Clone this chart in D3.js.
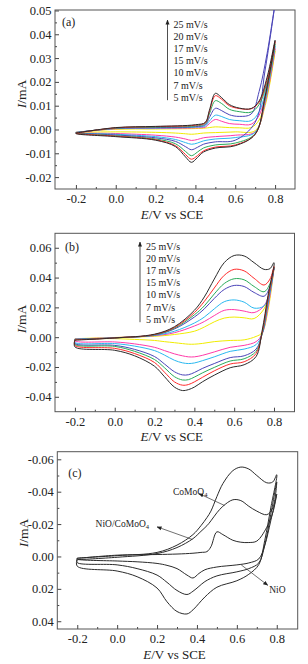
<!DOCTYPE html>
<html>
<head>
<meta charset="utf-8">
<script src="https://cdn.jsdelivr.net/npm/d3@7"></script>
<style>
  body { margin: 0; background: #fff; }
  text { font-family: "Liberation Serif", "Times New Roman", serif; fill: #222; }
</style>
</head>
<body>
<script>
// scan rates (legend top to bottom) and line colours
var rates = ["25 mV/s", "20 mV/s", "17 mV/s", "15 mV/s", "10 mV/s", "7 mV/s", "5 mV/s"];
var rateColors = ["#2b2b2b", "#ff2a2a", "#2aab5a", "#4a44b8", "#2ab8f0", "#ff3aa8", "#f0ec00"];

// tick values
var xTicks = [-0.2, 0.0, 0.2, 0.4, 0.6, 0.8];
var xMinor = [-0.1, 0.1, 0.3, 0.5, 0.7];
var yTicksA = [-0.02, -0.01, 0.00, 0.01, 0.02, 0.03, 0.04, 0.05];
var yMinorA = [-0.015, -0.005, 0.005, 0.015, 0.025, 0.035, 0.045];
var yTicksB = [-0.04, -0.02, 0.00, 0.02, 0.04, 0.06];
var yMinorB = [-0.03, -0.01, 0.01, 0.03, 0.05];
var yTicksC = [-0.06, -0.04, -0.02, 0.00, 0.02, 0.04];
var yMinorC = [-0.05, -0.03, -0.01, 0.01, 0.03];

// ---- panel (a): potentials (V) and currents (mA), one row per scan rate
var eFwdA = [-0.2, 0.0, 0.2, 0.4, 0.45, 0.47, 0.5, 0.53, 0.57, 0.62, 0.68, 0.72, 0.76, 0.8];
var iFwdA = [
  [-0.0015, 0.0008, 0.0013, 0.0020, 0.0030, 0.0080, 0.0152, 0.0135, 0.0105, 0.0090, 0.0088, 0.0120, 0.0220, 0.0375],
  [-0.0015, 0.0007, 0.0012, 0.0018, 0.0028, 0.0075, 0.0142, 0.0128, 0.0100, 0.0088, 0.0087, 0.0115, 0.0210, 0.0370],
  [-0.0014, 0.0006, 0.0010, 0.0015, 0.0025, 0.0065, 0.0121, 0.0110, 0.0085, 0.0075, 0.0073, 0.0105, 0.0200, 0.0360],
  [-0.0013, 0.0005, 0.0008, 0.0012, 0.0020, 0.0050, 0.0089, 0.0080, 0.0062, 0.0055, 0.0065, 0.0160, 0.0320, 0.0530],
  [-0.0012, 0.0004, 0.0006, 0.0010, 0.0015, 0.0035, 0.0060, 0.0055, 0.0042, 0.0037, 0.0037, 0.0075, 0.0190, 0.0350],
  [-0.0012, 0.0003, 0.0004, 0.0007, 0.0010, 0.0025, 0.0042, 0.0035, 0.0025, 0.0022, 0.0022, 0.0060, 0.0170, 0.0340],
  [-0.0012, 0.0001, 0.0002, 0.0004, 0.0006, 0.0008, 0.0011, 0.0010, 0.0008, 0.0007, 0.0008, 0.0040, 0.0150, 0.0330]
];
var eRevA = [0.75, 0.7, 0.6, 0.5, 0.44, 0.41, 0.38, 0.35, 0.3, 0.2, 0.0, -0.2];
var iRevA = [
  [0.0140, -0.0020, -0.0068, -0.0078, -0.0095, -0.0118, -0.0138, -0.0115, -0.0072, -0.0045, -0.0030, -0.0017],
  [0.0135, -0.0020, -0.0065, -0.0074, -0.0090, -0.0110, -0.0125, -0.0105, -0.0068, -0.0043, -0.0028, -0.0016],
  [0.0130, -0.0018, -0.0057, -0.0065, -0.0078, -0.0095, -0.0110, -0.0092, -0.0060, -0.0040, -0.0026, -0.0015],
  [0.0250, 0.0030, -0.0045, -0.0052, -0.0062, -0.0075, -0.0085, -0.0072, -0.0050, -0.0035, -0.0023, -0.0014],
  [0.0120, -0.0012, -0.0034, -0.0040, -0.0048, -0.0057, -0.0062, -0.0055, -0.0042, -0.0030, -0.0020, -0.0013],
  [0.0110, -0.0010, -0.0024, -0.0030, -0.0035, -0.0042, -0.0046, -0.0040, -0.0032, -0.0024, -0.0017, -0.0013],
  [0.0100, -0.0005, -0.0010, -0.0013, -0.0015, -0.0018, -0.0020, -0.0018, -0.0015, -0.0012, -0.0010, -0.0012]
];

// ---- panel (b)
var eFwdB = [-0.2, 0.0, 0.2, 0.3, 0.4, 0.45, 0.5, 0.55, 0.6, 0.65, 0.7, 0.75, 0.78, 0.8];
var iFwdB = [
  [-0.0020, -0.0005, 0.0020, 0.0070, 0.0180, 0.0270, 0.0390, 0.0500, 0.0548, 0.0545, 0.0500, 0.0455, 0.0460, 0.0500],
  [-0.0018, -0.0005, 0.0018, 0.0065, 0.0165, 0.0240, 0.0330, 0.0415, 0.0455, 0.0445, 0.0395, 0.0350, 0.0390, 0.0475],
  [-0.0016, -0.0005, 0.0016, 0.0060, 0.0150, 0.0210, 0.0290, 0.0360, 0.0392, 0.0385, 0.0340, 0.0305, 0.0360, 0.0470],
  [-0.0015, -0.0005, 0.0015, 0.0055, 0.0135, 0.0190, 0.0260, 0.0320, 0.0347, 0.0340, 0.0300, 0.0275, 0.0340, 0.0468],
  [-0.0013, -0.0004, 0.0012, 0.0040, 0.0095, 0.0135, 0.0190, 0.0238, 0.0250, 0.0235, 0.0195, 0.0210, 0.0310, 0.0465],
  [-0.0012, -0.0003, 0.0010, 0.0030, 0.0075, 0.0105, 0.0145, 0.0180, 0.0185, 0.0175, 0.0165, 0.0210, 0.0320, 0.0465],
  [-0.0010, -0.0002, 0.0006, 0.0018, 0.0040, 0.0068, 0.0103, 0.0128, 0.0135, 0.0130, 0.0125, 0.0190, 0.0310, 0.0465]
];
var eRevB = [0.77, 0.74, 0.71, 0.65, 0.58, 0.5, 0.44, 0.4, 0.37, 0.34, 0.3, 0.25, 0.2, 0.1, 0.0, -0.2];
var iRevB = [
  [0.0280, 0.0040, -0.0130, -0.0185, -0.0205, -0.0255, -0.0300, -0.0335, -0.0352, -0.0358, -0.0335, -0.0265, -0.0195, -0.0125, -0.0088, -0.0065],
  [0.0260, 0.0030, -0.0110, -0.0165, -0.0180, -0.0226, -0.0270, -0.0300, -0.0318, -0.0322, -0.0300, -0.0235, -0.0170, -0.0110, -0.0075, -0.0055],
  [0.0250, 0.0020, -0.0095, -0.0145, -0.0160, -0.0203, -0.0240, -0.0268, -0.0285, -0.0287, -0.0265, -0.0205, -0.0150, -0.0095, -0.0062, -0.0048],
  [0.0240, 0.0020, -0.0080, -0.0125, -0.0137, -0.0177, -0.0210, -0.0237, -0.0252, -0.0253, -0.0232, -0.0180, -0.0130, -0.0082, -0.0055, -0.0042],
  [0.0220, 0.0020, -0.0050, -0.0080, -0.0095, -0.0132, -0.0158, -0.0173, -0.0177, -0.0172, -0.0155, -0.0120, -0.0090, -0.0060, -0.0043, -0.0035],
  [0.0200, 0.0020, -0.0030, -0.0055, -0.0068, -0.0099, -0.0122, -0.0132, -0.0132, -0.0125, -0.0112, -0.0090, -0.0068, -0.0045, -0.0032, -0.0025],
  [0.0180, 0.0030, 0.0005, -0.0018, -0.0022, -0.0030, -0.0042, -0.0047, -0.0047, -0.0043, -0.0037, -0.0030, -0.0022, -0.0015, -0.0010, -0.0010]
];

// ---- panel (c): three electrodes, current axis reversed
var eFwdC = [-0.2, 0.0, 0.2, 0.3, 0.38, 0.42, 0.45, 0.47, 0.5, 0.53, 0.58, 0.62, 0.66, 0.7, 0.75, 0.78, 0.8];
var iFwdC = [
  [0.0010, -0.0005, -0.0025, -0.0070, -0.0135, -0.0190, -0.0240, -0.0280, -0.0370, -0.0450, -0.0530, -0.0552, -0.0540, -0.0500, -0.0455, -0.0460, -0.0505],
  [0.0020, 0.0005, -0.0018, -0.0055, -0.0110, -0.0155, -0.0190, -0.0220, -0.0270, -0.0310, -0.0350, -0.0345, -0.0310, -0.0280, -0.0258, -0.0300, -0.0460],
  [0.0012, -0.0008, -0.0012, -0.0015, -0.0020, -0.0025, -0.0030, -0.0060, -0.0152, -0.0135, -0.0100, -0.0088, -0.0086, -0.0095, -0.0180, -0.0270, -0.0385]
];
var eRevC = [0.77, 0.74, 0.71, 0.66, 0.6, 0.5, 0.44, 0.41, 0.38, 0.35, 0.3, 0.25, 0.2, 0.1, 0.0, -0.2];
var iRevC = [
  [-0.0300, -0.0100, 0.0050, 0.0110, 0.0150, 0.0190, 0.0250, 0.0290, 0.0330, 0.0355, 0.0340, 0.0280, 0.0195, 0.0125, 0.0090, 0.0060],
  [-0.0260, -0.0070, 0.0040, 0.0075, 0.0095, 0.0120, 0.0155, 0.0185, 0.0215, 0.0235, 0.0210, 0.0160, 0.0115, 0.0075, 0.0052, 0.0038],
  [-0.0220, -0.0070, 0.0015, 0.0040, 0.0052, 0.0065, 0.0082, 0.0105, 0.0133, 0.0115, 0.0075, 0.0055, 0.0043, 0.0033, 0.0028, 0.0016]
];
// annotations in (c): label, text anchor (E, I), arrow from curve point to label
var annoLabels = ["CoMoO", "NiO/CoMoO", "NiO"];
var annoSub = ["4", "4", ""];
var annoText = [[0.28, -0.0403], [-0.108, -0.0204], [0.762, 0.0207]];
var annoFrom = [[0.538, -0.0315], [0.377, -0.0105], [0.622, 0.0052]];
var annoTo = [[0.41, -0.0388], [0.2, -0.0183], [0.755, 0.0178]];

var W = 308, H = 664;
var svg = d3.select("body").append("svg")
  .attr("width", W)
  .attr("height", H);

svg.append("defs").append("marker")
  .attr("id", "head")
  .attr("viewBox", "0 0 10 10")
  .attr("refX", 9).attr("refY", 5)
  .attr("markerWidth", 5).attr("markerHeight", 5)
  .attr("markerUnits", "userSpaceOnUse")
  .attr("orient", "auto")
  .append("path").attr("d", "M0,1L10,5L0,9Z").attr("fill", "#222");

function fmt(v) { return Math.abs(v) < 1e-9 ? "0.00" : v.toFixed(2); }

function loop(eF, iF, eR, iR) {
  var pts = eF.map(function(e, i) { return [e, iF[i]]; });
  eR.forEach(function(e, i) { pts.push([e, iR[i]]); });
  pts.push(pts[0]);
  return pts;
}

function panel(p) {
  var x = d3.scaleLinear().domain(p.xDom).range([p.left, p.right]);
  var y = d3.scaleLinear().domain(p.yDom).range([p.bottom, p.top]);
  var g = svg.append("g");

  g.append("clipPath").attr("id", "clip" + p.tag)
    .append("rect")
    .attr("x", p.left).attr("y", p.top)
    .attr("width", p.right - p.left).attr("height", p.bottom - p.top);

  // axes, ticks inside
  g.append("g").attr("transform", "translate(0," + p.bottom + ")")
    .call(d3.axisBottom(x).tickValues(xTicks).tickFormat(function(d) { return d.toFixed(1); })
      .tickSize(-4).tickPadding(5.5));
  g.append("g").attr("transform", "translate(0," + p.bottom + ")")
    .call(d3.axisBottom(x).tickValues(xMinor).tickFormat("").tickSize(-2));
  g.append("g").attr("transform", "translate(" + p.left + ",0)")
    .call(d3.axisLeft(y).tickValues(p.yTicks).tickFormat(fmt).tickSize(-4).tickPadding(3.5));
  g.append("g").attr("transform", "translate(" + p.left + ",0)")
    .call(d3.axisLeft(y).tickValues(p.yMinor).tickFormat("").tickSize(-2));
  g.selectAll(".domain").remove();
  g.selectAll(".tick line").attr("stroke", "#444");
  g.selectAll(".tick text").attr("font-size", 12.5).attr("fill", "#222")
    .style("font-family", "'Liberation Serif', serif");

  g.append("rect")
    .attr("x", p.left).attr("y", p.top)
    .attr("width", p.right - p.left).attr("height", p.bottom - p.top)
    .attr("fill", "none").attr("stroke", "#555").attr("stroke-width", 1);

  var line = d3.line()
    .x(function(d) { return x(d[0]); })
    .y(function(d) { return y(d[1]); })
    .curve(d3.curveCatmullRom.alpha(0.5));

  var curves = g.append("g").attr("clip-path", "url(#clip" + p.tag + ")");
  for (var k = p.iF.length - 1; k >= 0; k--) {
    curves.append("path")
      .attr("d", line(loop(p.eF, p.iF[k], p.eR, p.iR[k])))
      .attr("fill", "none")
      .attr("stroke", p.colors[k])
      .attr("stroke-width", 1);
  }

  // panel tag
  g.append("text").attr("x", p.left + p.tagDx).attr("y", p.top + p.tagDy)
    .attr("dy", ".35em").attr("font-size", 12).text("(" + p.tag + ")");

  // axis titles
  var xt = g.append("text")
    .attr("x", (p.left + p.right) / 2 - 3).attr("y", p.bottom + 29.5)
    .attr("text-anchor", "middle").attr("font-size", 13);
  xt.append("tspan").attr("font-style", "italic").text("E");
  xt.append("tspan").text("/V vs SCE");

  var yt = g.append("text")
    .attr("transform", "translate(" + (p.left - 29) + "," + (p.titleY) + ") rotate(-90)")
    .attr("text-anchor", "middle").attr("font-size", 13.5);
  yt.append("tspan").attr("font-style", "italic").text("I");
  yt.append("tspan").text("/mA");

  return {x: x, y: y, g: g};
}

function rateLegend(g, lx, top, step) {
  var bottom = top + step * (rates.length - 1);
  g.append("line")
    .attr("x1", lx).attr("x2", lx)
    .attr("y1", bottom + 3).attr("y2", top - 4)
    .attr("stroke", "#222").attr("stroke-width", 0.8)
    .attr("marker-end", "url(#head)");
  g.selectAll("text.rate").data(rates).enter().append("text")
    .attr("class", "rate")
    .attr("x", lx + 6)
    .attr("y", function(d, i) { return top + i * step; })
    .attr("dy", ".35em")
    .attr("font-size", 10)
    .text(function(d) { return d; });
}

var pa = panel({tag: "a", left: 55, right: 295, top: 10, bottom: 189, tagDx: 7, tagDy: 12,
  xDom: [-0.305, 0.9], yDom: [-0.025, 0.0502], yTicks: yTicksA, yMinor: yMinorA, titleY: 94,
  eF: eFwdA, iF: iFwdA, eR: eRevA, iR: iRevA, colors: rateColors});
rateLegend(pa.g, 167.5, 24, 12.2);

var pb = panel({tag: "b", left: 55, right: 294.5, top: 233.3, bottom: 411.7, tagDx: 10, tagDy: 13.5,
  xDom: [-0.3, 0.903], yDom: [-0.05, 0.0697], yTicks: yTicksB, yMinor: yMinorB, titleY: 319,
  eF: eFwdB, iF: iFwdB, eR: eRevB, iR: iRevB, colors: rateColors});
rateLegend(pb.g, 140, 246, 12.2);

var pc = panel({tag: "c", left: 57.3, right: 297.7, top: 451.7, bottom: 629, tagDx: 11, tagDy: 21.5,
  xDom: [-0.3, 0.905], yDom: [0.0448, -0.0647], yTicks: yTicksC, yMinor: yMinorC, titleY: 533,
  eF: eFwdC, iF: iFwdC, eR: eRevC, iR: iRevC, colors: ["#2b2b2b", "#2b2b2b", "#2b2b2b"]});

annoLabels.forEach(function(lab, i) {
  pc.g.append("line")
    .attr("x1", pc.x(annoFrom[i][0])).attr("y1", pc.y(annoFrom[i][1]))
    .attr("x2", pc.x(annoTo[i][0])).attr("y2", pc.y(annoTo[i][1]))
    .attr("stroke", "#333").attr("stroke-width", 0.7)
    .attr("marker-end", "url(#head)");
  var t = pc.g.append("text")
    .attr("x", pc.x(annoText[i][0])).attr("y", pc.y(annoText[i][1]))
    .attr("dy", ".35em").attr("font-size", 9.5).text(lab);
  if (annoSub[i]) {
    t.append("tspan").attr("font-size", 6.5).attr("dy", "2").text(annoSub[i]);
  }
});
</script>
</body>
</html>
